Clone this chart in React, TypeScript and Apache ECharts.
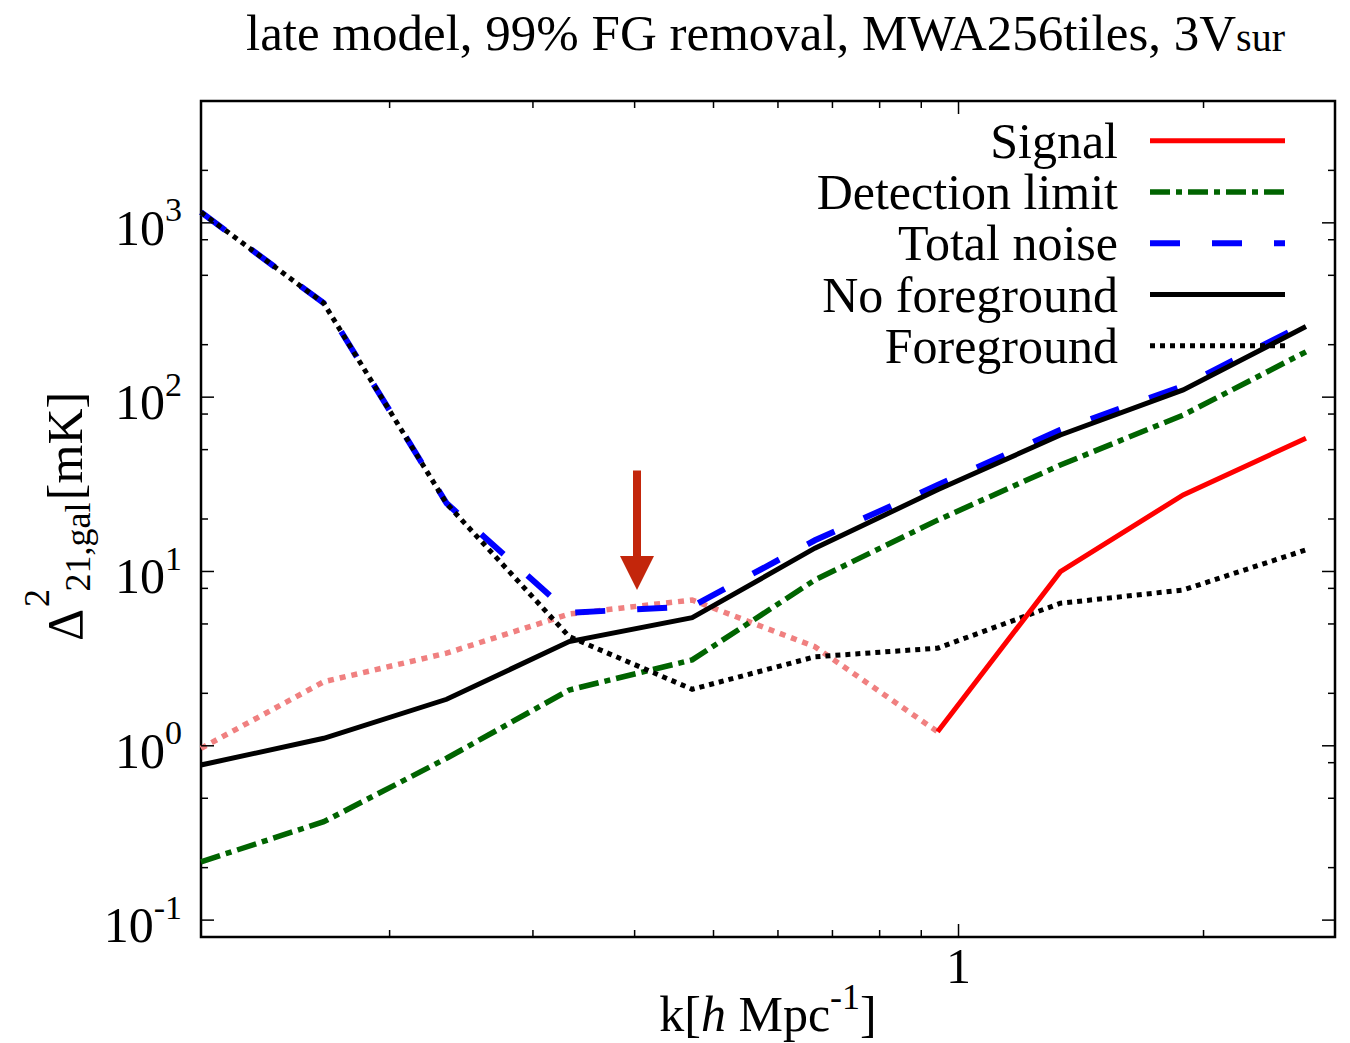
import React, { useEffect, useRef } from 'react';
import * as echarts from 'echarts';

// ---------------- data ----------------
const K_VALUES = [0.1173, 0.166, 0.235, 0.3324, 0.4707, 0.6661, 0.9425, 1.334, 1.888, 2.672];
const SIGNAL = [0.967, 2.33, 3.4, 5.7, 6.86, 3.7, 1.205, 9.97, 27.5, 58.1];
const SIGNAL_DETECTED_FROM = 6; // first index where the signal is drawn solid
const DETECTION_LIMIT = [0.216, 0.367, 0.848, 2.09, 3.11, 8.94, 19.7, 40.8, 79, 182];
const TOTAL_NOISE = [1151, 346, 24.6, 5.8, 6.3, 15.1, 31.3, 64.9, 116, 265];
const NO_FOREGROUND = [0.776, 1.104, 1.849, 3.96, 5.43, 13.6, 29.4, 60.7, 110, 254];
const FOREGROUND = [1150, 346, 24.5, 4.23, 2.11, 3.24, 3.63, 6.57, 7.83, 13.3];

const LEGEND_NAMES = ['Signal', 'Detection limit', 'Total noise', 'No foreground', 'Foreground'];

const X_MIN = 0.1173;
const X_MAX = 2.901;
const Y_MIN = 0.08;
const Y_MAX = 5000;
const X_MAJOR_TICKS = [1];
const X_MINOR_TICKS = [0.2, 0.3, 0.4, 0.5, 0.6, 0.7, 0.8, 0.9, 2];
const Y_MAJOR_TICKS = [0.1, 1, 10, 100, 1000];
const Y_MINOR_TICKS = [0.2, 0.5, 0.8, 2, 5, 8, 20, 50, 80, 200, 500, 800, 2000];

const ARROW_K = 0.4027;
const ARROW_TOP = 37.9;
const ARROW_TIP = 7.83;

const TITLE_MAIN = 'late model, 99% FG removal, MWA256tiles, 3V';
const TITLE_SUB = 'sur';

const FONT = "'Liberation Serif', 'Times New Roman', serif";

// ---------------- helpers ----------------
const toPairs = (ys: number[], from = 0, to = ys.length - 1) =>
  K_VALUES.slice(from, to + 1).map((k, i) => [k, ys[from + i]]);

const MAJOR_LEN = 13;
const MINOR_LEN = 7;
const TICK_DATA: number[][] = [
  ...Y_MAJOR_TICKS.map((v) => [X_MIN, v, MAJOR_LEN, 0]),
  ...Y_MINOR_TICKS.map((v) => [X_MIN, v, MINOR_LEN, 0]),
  ...X_MAJOR_TICKS.map((v) => [v, Y_MIN, MAJOR_LEN, 1]),
  ...X_MINOR_TICKS.map((v) => [v, Y_MIN, MINOR_LEN, 1]),
];

const isPow10 = (v: number) => {
  const e = Math.log10(v);
  return Math.abs(e - Math.round(e)) < 1e-6;
};

const txt = (size: number, extra: any = {}) => ({
  fontSize: size,
  fontFamily: FONT,
  fontWeight: 'normal',
  color: '#000',
  ...extra,
});

function lineSeries(name: string, data: number[][], color: string, width: number, type: any, z = 2) {
  return {
    name,
    type: 'line',
    data,
    symbol: 'none',
    showSymbol: false,
    smooth: false,
    z,
    lineStyle: { color, width, type, cap: 'butt', join: 'miter' },
    itemStyle: { color },
    emphasis: { disabled: true },
  };
}

export default function App() {
  const ref = useRef<HTMLDivElement>(null);

  useEffect(() => {
    const chart = echarts.init(ref.current as HTMLDivElement, null, { renderer: 'svg' });

    const option: any = {
      animation: false,
      backgroundColor: '#fff',
      title: {
        left: 246,
        top: 7,
        padding: 0,
        text: `{a|${TITLE_MAIN}}{s|${TITLE_SUB}}`,
        textStyle: {
          fontWeight: 'normal',
          fontFamily: FONT,
          rich: {
            a: txt(51, { lineHeight: 50, verticalAlign: 'top' }),
            s: txt(40, { lineHeight: 40, padding: [23, 0, 0, 0], verticalAlign: 'bottom' }),
          },
        },
      },
      grid: {
        left: 201,
        top: 101,
        width: 1134,
        height: 836,
        show: true,
        borderColor: '#000',
        borderWidth: 2.5,
        backgroundColor: 'transparent',
        containLabel: false,
        outerBoundsMode: 'none',
      },
      legend: {
        data: LEGEND_NAMES,
        orient: 'vertical',
        align: 'right',
        right: 62,
        top: 115,
        padding: 0,
        itemWidth: 135,
        itemHeight: 14,
        itemGap: 0,
        selectedMode: false,
        textStyle: txt(50, { lineHeight: 51.3, padding: [0, 27, 0, 0] }),
        itemStyle: { opacity: 0 },
        lineStyle: { width: 'inherit' },
      },
      xAxis: {
        type: 'log',
        logBase: 10,
        min: X_MIN,
        max: X_MAX,
        axisLine: { show: false },
        axisTick: { show: false },
        splitLine: { show: false },
        minorTick: { show: false },
        axisLabel: {
          margin: 4,
          ...txt(50),
          formatter: (v: number) => (isPow10(v) ? String(Math.round(v * 1000) / 1000) : ''),
        },
        name: '{a|k[}{i|h}{a| Mpc}{s|-1}{a|]}',
        nameLocation: 'middle',
        nameGap: 42,
        nameMoveOverlap: false,
        nameTextStyle: {
          verticalAlign: 'top',
          rich: {
            a: txt(50, { lineHeight: 60, verticalAlign: 'bottom' }),
            i: txt(50, { fontStyle: 'italic', lineHeight: 60, verticalAlign: 'bottom' }),
            s: txt(36, { lineHeight: 36, verticalAlign: 'top' }),
          },
        },
      },
      yAxis: {
        type: 'log',
        logBase: 10,
        min: Y_MIN,
        max: Y_MAX,
        axisLine: { show: false },
        axisTick: { show: false },
        splitLine: { show: false },
        minorTick: { show: false },
        axisLabel: {
          margin: 19,
          formatter: (v: number) => (isPow10(v) ? `{b|10}{s|${Math.round(Math.log10(v))}}` : ''),
          rich: {
            b: txt(50, { lineHeight: 60, verticalAlign: 'bottom' }),
            s: txt(34, { lineHeight: 34, verticalAlign: 'top' }),
          },
        },
      },
      series: [
        lineSeries('Signal (below detection limit)', toPairs(SIGNAL, 0, SIGNAL_DETECTED_FROM), '#f08080', 5.5, [6, 6]),
        lineSeries('Detection limit', toPairs(DETECTION_LIMIT), '#006400', 5.5, [20, 6, 6, 6]),
        lineSeries('Total noise', toPairs(TOTAL_NOISE), '#0000ff', 6, [30, 32]),
        lineSeries('No foreground', toPairs(NO_FOREGROUND), '#000000', 5, 'solid'),
        lineSeries('Foreground', toPairs(FOREGROUND), '#000000', 5, [5, 5]),
        lineSeries('Signal', toPairs(SIGNAL, SIGNAL_DETECTED_FROM), '#ff0000', 5, 'solid'),
        {
          name: 'ticks',
          type: 'custom',
          coordinateSystem: 'cartesian2d',
          data: TICK_DATA,
          encode: { x: 0, y: 1 },
          silent: true,
          clip: false,
          z: 5,
          renderItem: (params: any, api: any) => {
            const p = api.coord([api.value(0), api.value(1)]);
            const len = api.value(2);
            const isX = api.value(3) === 1;
            const cs = params.coordSys;
            const style = { stroke: '#000', lineWidth: 1.5 };
            if (isX) {
              return {
                type: 'group',
                children: [
                  { type: 'line', shape: { x1: p[0], y1: cs.y + cs.height, x2: p[0], y2: cs.y + cs.height - len }, style },
                  { type: 'line', shape: { x1: p[0], y1: cs.y, x2: p[0], y2: cs.y + len }, style },
                ],
              };
            }
            return {
              type: 'group',
              children: [
                { type: 'line', shape: { x1: cs.x, y1: p[1], x2: cs.x + len, y2: p[1] }, style },
                { type: 'line', shape: { x1: cs.x + cs.width, y1: p[1], x2: cs.x + cs.width - len, y2: p[1] }, style },
              ],
            };
          },
        },
      ],
    };

    chart.setOption(option);

    // y-axis title (rotated), and the annotation arrow
    const yTitle = (text: string, x: number, y: number, size: number) => ({
      type: 'text',
      x,
      y,
      rotation: Math.PI / 2,
      style: {
        text,
        fontSize: size,
        fontFamily: FONT,
        fill: '#000',
        align: 'center',
        verticalAlign: 'middle',
        textAlign: 'center',
        textVerticalAlign: 'middle',
      },
    });

    const pTop = chart.convertToPixel({ xAxisIndex: 0, yAxisIndex: 0 }, [ARROW_K, ARROW_TOP]) as number[];
    const pTip = chart.convertToPixel({ xAxisIndex: 0, yAxisIndex: 0 }, [ARROW_K, ARROW_TIP]) as number[];
    const headH = 34;
    const headHalf = 17;
    const shaftW = 8;

    chart.setOption({
      graphic: [
        yTitle('Δ', 65, 625, 50),
        yTitle('2', 37, 598, 36),
        yTitle('21,gal', 78, 547, 36),
        yTitle('[mK]', 65, 446, 50),
        {
          type: 'rect',
          shape: { x: pTop[0] - shaftW / 2, y: pTop[1], width: shaftW, height: pTip[1] - headH - pTop[1] + 1 },
          style: { fill: '#c3260b' },
          z: 20,
        },
        {
          type: 'polygon',
          shape: {
            points: [
              [pTip[0] - headHalf, pTip[1] - headH],
              [pTip[0] + headHalf, pTip[1] - headH],
              [pTip[0], pTip[1]],
            ],
          },
          style: { fill: '#c3260b' },
          z: 20,
        },
      ],
    });

    return () => chart.dispose();
  }, []);

  return (
    <div
      ref={ref}
      style={{ position: 'fixed', left: 0, top: 0, width: 1350, height: 1043, background: '#fff' }}
    />
  );
}
